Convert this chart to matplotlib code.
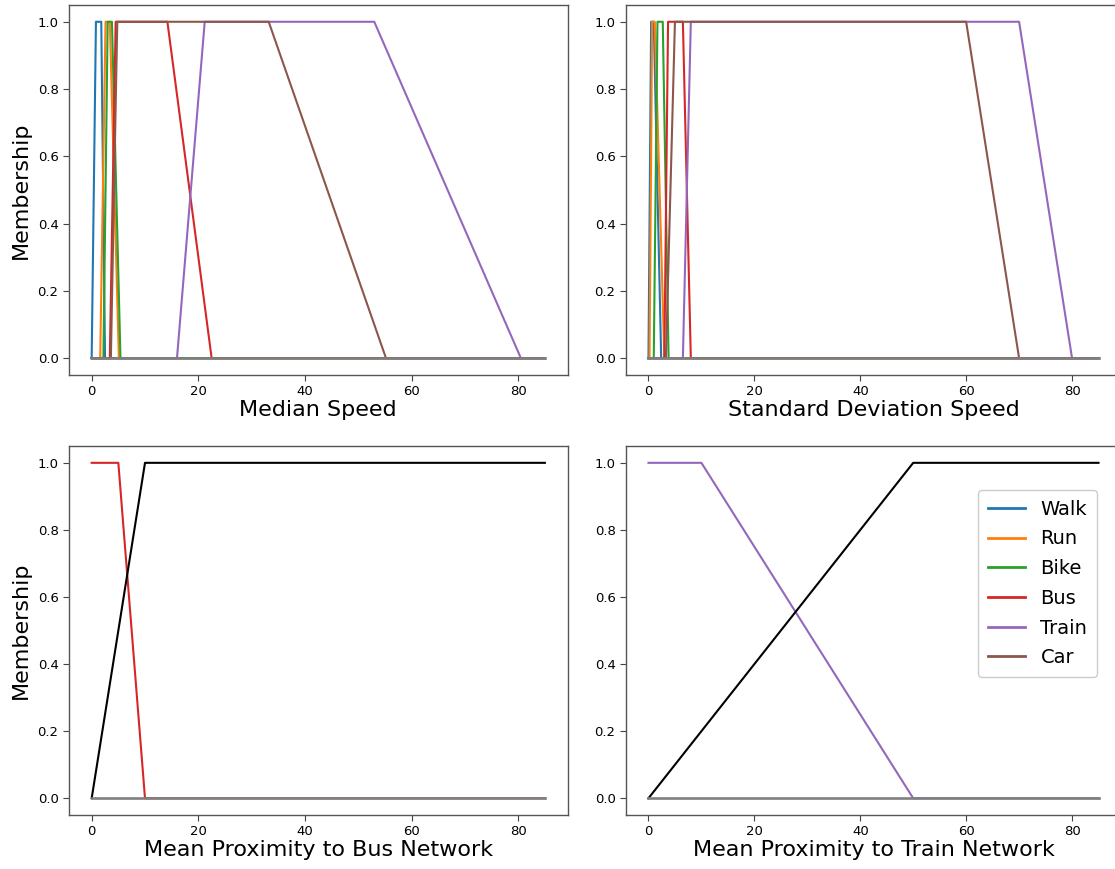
import matplotlib
matplotlib.use("Agg")
import matplotlib.pyplot as plt

# trapezoid breakpoints (a, b, c, d)
modes = ["Walk", "Run", "Bike", "Bus", "Train", "Car"]
colors = ["tab:blue", "tab:orange", "tab:green", "tab:red", "tab:purple", "tab:brown"]

median_speed = [
    [0, 0.8, 1.8, 2.5],
    [1.6, 2.6, 3.4, 5.1],
    [2.2, 3.0, 3.8, 5.4],
    [3.4, 4.5, 14.2, 22.5],
    [16, 21.2, 53, 80.5],
    [3.6, 4.8, 33.2, 55.2],
]
std_speed = [
    [0, 0.5, 1.0, 2.4],
    [0.2, 0.7, 1.2, 3.0],
    [1.0, 1.7, 2.7, 3.8],
    [3.0, 3.7, 6.5, 8.0],
    [6.5, 8.0, 70, 80],
    [3.3, 5.0, 60, 70],
]
bus_prox_bus = [0, 0, 5, 10]
bus_prox_other = [0, 10, 85, 85]
train_prox_train = [0, 0, 10, 50]
train_prox_other = [0, 50, 85, 85]

x_lo, x_hi = 0, 85


def trap_pts(p, lo=x_lo, hi=x_hi):
    a, b, c, d = p
    xs, ys = [], []
    if a > lo:
        xs.append(lo); ys.append(0)
    if b > a:
        xs.append(a); ys.append(0)
    xs += [b, c]; ys += [1, 1]
    if d > c:
        xs.append(d); ys.append(0)
    if d < hi:
        xs.append(hi); ys.append(0)
    return xs, ys


fig = plt.figure(figsize=(11.15, 8.69), dpi=100)
ax1 = fig.add_axes([0.0619, 0.5685, 0.4471, 0.4258])
ax2 = fig.add_axes([0.5614, 0.5685, 0.4440, 0.4258])
ax3 = fig.add_axes([0.0619, 0.0621, 0.4471, 0.4246])
ax4 = fig.add_axes([0.5614, 0.0621, 0.4440, 0.4246])

lw = 1.5
for ax, params in [(ax1, median_speed), (ax2, std_speed)]:
    for name, col, p in zip(modes, colors, params):
        xs, ys = trap_pts(p)
        ax.plot(xs, ys, color=col, lw=lw, label=name)

xs, ys = trap_pts(bus_prox_bus)
ax3.plot(xs, ys, color="tab:red", lw=lw)
xs, ys = trap_pts(bus_prox_other)
ax3.plot(xs, ys, color="black", lw=lw)

xs, ys = trap_pts(train_prox_train)
ax4.plot(xs, ys, color="tab:purple", lw=lw)
xs, ys = trap_pts(train_prox_other)
ax4.plot(xs, ys, color="black", lw=lw)

# legend handles (same for every panel)
handles = []
for name, col in zip(modes, colors):
    h, = ax4.plot([], [], color=col, lw=2.0, label=name)
    handles.append(h)

xlabels = ["Median Speed", "Standard Deviation Speed",
           "Mean Proximity to Bus Network", "Mean Proximity to Train Network"]
for ax, lab in zip([ax1, ax2, ax3, ax4], xlabels):
    ax.plot([x_lo, x_hi], [0, 0], color="tab:gray", lw=lw + 0.4)
    ax.set_xlim(-4.25, 89.25)
    ax.set_ylim(-0.05, 1.05)
    ax.set_xticks([0, 20, 40, 60, 80])
    ax.set_yticks([0.0, 0.2, 0.4, 0.6, 0.8, 1.0])
    ax.tick_params(labelsize=9.5, length=4, width=0.8, color="#444444")
    ax.set_xlabel(lab, fontsize=16, labelpad=1)
    for s in ax.spines.values():
        s.set_color("#555555")
        s.set_linewidth(1.0)

ax1.set_ylabel("Membership", fontsize=16, labelpad=5)
ax3.set_ylabel("Membership", fontsize=16, labelpad=5)

ax4.legend(handles=handles, loc="upper right",
           bbox_to_anchor=(0.9515, 0.8808), borderaxespad=0, fontsize=14,
           handlelength=1.9, labelspacing=0.55, borderpad=0.5,
           framealpha=1, edgecolor="#cccccc")

fig.savefig("out.png", dpi=100)
